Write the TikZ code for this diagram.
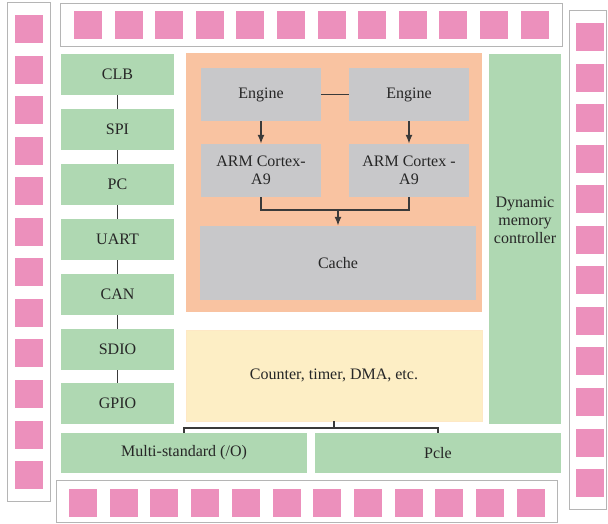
\documentclass[tikz,border=0pt]{standalone}
\usepackage{fontspec}
\setmainfont{Liberation Serif}
\usetikzlibrary{arrows.meta}
\definecolor{padpink}{HTML}{EC90BC}
\definecolor{boxgreen}{HTML}{AFD8B2}
\definecolor{boxgray}{HTML}{C8C8CA}
\definecolor{boxorange}{HTML}{F9C3A1}
\definecolor{boxyellow}{HTML}{FDEEC5}
\definecolor{framegray}{HTML}{B5B5B5}
\definecolor{txtgray}{HTML}{262626}
\definecolor{linegray}{HTML}{3A3A3A}
\tikzset{
  blk/.style={rectangle, inner sep=0pt, align=center, text=txtgray,
    font=\fontsize{16}{18}\selectfont},
  grn/.style={blk, fill=boxgreen},
  gry/.style={blk, fill=boxgray},
  frm/.style={draw=framegray, line width=1pt},
  pad/.style={fill=padpink},
  conn/.style={draw=linegray, line width=1.5pt},
  arr/.style={conn, -{Latex[length=9pt,width=7pt]}}
}
\begin{document}
\begin{tikzpicture}[x=1pt,y=-1pt]
\useasboundingbox (0,0) rectangle (608,523);
% pad frames
\draw[frm] (7,2) rectangle (50,501);
\draw[frm] (60,3) rectangle (562,46);
\draw[frm] (569,10) rectangle (606,509);
\draw[frm] (56,480) rectangle (557,522);
\foreach \i in {0,...,11} {
  \fill[pad] (15,{15+40.55*\i}) rectangle ++(28,28);
  \fill[pad] ({74+40.6*\i},11) rectangle ++(28,28);
  \fill[pad] (576,{23+40.55*\i}) rectangle ++(28,28);
  \fill[pad] ({69+40.7*\i},489) rectangle ++(28,28);
}
% left column
\node[grn, minimum width=113, minimum height=41] (clb)  at (117.5,74.5)  {CLB};
\node[grn, minimum width=113, minimum height=41] (spi)  at (117.5,129.5) {SPI};
\node[grn, minimum width=113, minimum height=41] (pc)   at (117.5,184.5) {PC};
\node[grn, minimum width=113, minimum height=41] (uart) at (117.5,239.5) {UART};
\node[grn, minimum width=113, minimum height=41] (can)  at (117.5,294.5) {CAN};
\node[grn, minimum width=113, minimum height=41] (sdio) at (117.5,349.5) {SDIO};
\node[grn, minimum width=113, minimum height=41] (gpio) at (117.5,403.5) {GPIO};
\draw[conn] (clb) -- (spi);
\draw[conn] (spi) -- (pc);
\draw[conn] (pc) -- (uart);
\draw[conn] (uart) -- (can);
\draw[conn] (can) -- (sdio);
\draw[conn] (sdio) -- (gpio);
% processor block
\node[blk, fill=boxorange, minimum width=296, minimum height=259] (ps) at (334,182.5) {};
\node[gry, minimum width=120, minimum height=53] (eng1) at (261,94.5) {Engine};
\node[gry, minimum width=120, minimum height=53] (eng2) at (409,94.5) {Engine};
\node[gry, minimum width=120, minimum height=53] (arm1) at (261,170.5) {ARM Cortex-\\A9};
\node[gry, minimum width=120, minimum height=53] (arm2) at (409,170.5) {ARM Cortex -\\A9};
\node[gry, minimum width=276, minimum height=74] (cache) at (338,263) {Cache};
\draw[conn, line width=1.2pt] (eng1) -- (eng2);
\draw[arr] (eng1) -- (arm1);
\draw[arr] (eng2) -- (arm2);
\coordinate (armjoin) at (338,210);
\draw[conn] (arm1.south) |- (armjoin) -| (arm2.south);
\draw[arr] (armjoin) -- (cache.north);
% dynamic memory controller
\node[grn, minimum width=72, minimum height=370] (dmc) at (525,239) {};
\node[blk] (dmctext) at (525,220) {Dynamic\\memory\\controller};
% counter
\node[blk, fill=boxyellow, draw=boxyellow!80!orange!60, line width=0.6pt,
  minimum width=296, minimum height=91] (cnt) at (334,375.5) {Counter, timer, DMA, etc.};
% bottom boxes
\node[grn, minimum width=246, minimum height=40] (mio) at (184,453) {Multi-standard (/O)};
\node[grn, minimum width=246, minimum height=40] (pcie) at (438,453) {Pcle};
\coordinate (cntjoin) at (334,428);
\draw[conn, line width=1.2pt] (cnt.south) -- (cntjoin);
\draw[conn, line width=1.2pt] (mio.north) |- (cntjoin) -| (pcie.north);
\end{tikzpicture}
\end{document}
